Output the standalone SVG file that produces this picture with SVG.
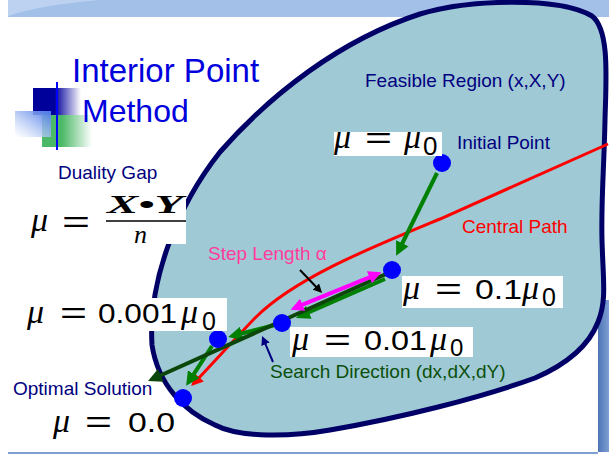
<svg xmlns="http://www.w3.org/2000/svg" width="609" height="458" viewBox="0 0 609 458">
<defs>
<style>
.lbl{font-family:"Liberation Sans",Arial,sans-serif;font-size:19px}
.navy{fill:#000080}
.mi{font-family:"Liberation Serif","DejaVu Serif",serif;font-style:italic;fill:#000}
.mn{font-family:"Liberation Sans",Arial,sans-serif;fill:#000}
.box{fill:#fff}
.dot{fill:#0000ff}
.g{stroke:#008000;stroke-width:4;fill:none}
</style>
<linearGradient id="navyFade" x1="0" y1="0" x2="1" y2="0">
<stop offset="0" stop-color="#00009a"/><stop offset="0.45" stop-color="#00009a"/><stop offset="1" stop-color="#00009a" stop-opacity="0"/>
</linearGradient>
<linearGradient id="greenFade" x1="0" y1="0" x2="1" y2="0">
<stop offset="0" stop-color="#4cb968"/><stop offset="0.4" stop-color="#4cb968"/><stop offset="1" stop-color="#4cb968" stop-opacity="0"/>
</linearGradient>
<linearGradient id="lightSq" x1="1" y1="0" x2="0" y2="1">
<stop offset="0" stop-color="#4a7ae6"/><stop offset="1" stop-color="#ffffff" stop-opacity="0.6"/>
</linearGradient>
<linearGradient id="lineFade" x1="0" y1="0" x2="1" y2="0">
<stop offset="0" stop-color="#1010ff"/><stop offset="1" stop-color="#1010ff" stop-opacity="0.15"/>
</linearGradient>
<linearGradient id="sideBand" x1="0" y1="0" x2="1" y2="0">
<stop offset="0" stop-color="#4d74b6"/><stop offset="1" stop-color="#7e9fd4"/>
</linearGradient>
<marker id="ahG" viewBox="0 0 10 10" refX="3" refY="5" markerWidth="14" markerHeight="14" markerUnits="userSpaceOnUse" orient="auto"><path d="M0,0 L10,5 L0,10 z" fill="#008000"/></marker>
<marker id="ahDG" viewBox="0 0 10 10" refX="3" refY="5" markerWidth="14" markerHeight="14" markerUnits="userSpaceOnUse" orient="auto"><path d="M0,0 L10,5 L0,10 z" fill="#0b460b"/></marker>
<marker id="ahR" viewBox="0 0 10 10" refX="3" refY="5" markerWidth="12" markerHeight="12" markerUnits="userSpaceOnUse" orient="auto"><path d="M0,0 L10,5 L0,10 z" fill="#ff0000"/></marker>
<marker id="ahM" viewBox="0 0 10 10" refX="3" refY="5" markerWidth="13" markerHeight="13" markerUnits="userSpaceOnUse" orient="auto-start-reverse"><path d="M0,0 L10,5 L0,10 z" fill="#ff00ff"/></marker>
<marker id="ahK" viewBox="0 0 10 10" refX="3" refY="5" markerWidth="9" markerHeight="9" markerUnits="userSpaceOnUse" orient="auto"><path d="M0,0 L10,5 L0,10 z" fill="#000"/></marker>
<marker id="ahN" viewBox="0 0 10 10" refX="3" refY="5" markerWidth="9" markerHeight="9" markerUnits="userSpaceOnUse" orient="auto"><path d="M0,0 L10,5 L0,10 z" fill="#000080"/></marker>
</defs>

<rect x="0" y="0" width="609" height="458" fill="#ffffff"/>
<!-- slide decoration -->
<rect x="8" y="0" width="601" height="17" fill="#a3c0e8"/>
<path d="M8,0 L100,0 Q40,5 8,16 Z" fill="#bcd2f0"/>
<rect x="598" y="300" width="11" height="152" fill="url(#sideBand)"/>
<line x1="8" y1="453" x2="598" y2="453" stroke="#7f9fd0" stroke-width="2"/>

<!-- logo -->
<g id="logo">
<rect x="42" y="115" width="50" height="32" fill="url(#greenFade)"/>
<rect x="33" y="88" width="48" height="27" fill="url(#navyFade)"/>
<rect x="15" y="111" width="36" height="26" fill="url(#lightSq)"/>
<line x1="57" y1="82" x2="57" y2="150" stroke="#0000ff" stroke-width="2"/>
<line x1="35" y1="133" x2="235" y2="133" stroke="url(#lineFade)" stroke-width="1.5"/>
</g>
<g id="title">
<text x="72" y="82" font-family="'Liberation Sans',Arial,sans-serif" font-size="33" fill="#0000dc">Interior Point</text>
<text x="82" y="122" font-family="'Liberation Sans',Arial,sans-serif" font-size="32" fill="#0000dc">Method</text>
</g>

<!-- feasible region -->
<g id="feasible-region">
<path d="M152,345 C148,280 178,205 220,152 C270,95 340,40 420,14 C470,-1 560,-3 592,16 C610,30 606,80 605,120 C604,170 601,200 602,240 C603,280 607,300 598,322 C588,348 565,365 535,378 C480,398 400,418 330,430 C290,437 240,438 215,425 C185,412 158,385 152,345 Z" fill="#9fc9d4" stroke="#000066" stroke-width="5"/>
<text class="lbl navy" x="365" y="87">Feasible Region (x,X,Y)</text>
</g>

<g id="connectors">
<path id="central-path" d="M608,144 L440,219 C370,248 295,278 255,318 C232,342 214,362 197,380" fill="none" stroke="#ff0000" stroke-width="3" marker-end="url(#ahR)"/>
<line class="g" x1="437" y1="173" x2="400.5" y2="247" marker-end="url(#ahG)"/>
<line class="g" x1="385" y1="279" x2="305" y2="314" marker-end="url(#ahG)"/>
<line class="g" x1="275" y1="325" x2="237.7" y2="334.5" marker-end="url(#ahG)"/>
<line class="g" x1="212" y1="346" x2="191.5" y2="377.6" marker-end="url(#ahG)"/>
<line x1="386" y1="274" x2="157" y2="377" stroke="#0b460b" stroke-width="4" marker-end="url(#ahDG)"/>
<line x1="373" y1="275.8" x2="299" y2="306.2" stroke="#ff00ff" stroke-width="4" marker-start="url(#ahM)" marker-end="url(#ahM)"/>
<line x1="300" y1="270" x2="317.7" y2="288.5" stroke="#000" stroke-width="2" marker-end="url(#ahK)"/>
<line x1="273" y1="362" x2="264.5" y2="341.8" stroke="#000080" stroke-width="2" marker-end="url(#ahN)"/>
</g>

<g id="central-path-label"><text class="lbl" x="462" y="233" fill="#ff0000">Central Path</text></g>
<g id="step-length-label"><text class="lbl" x="208" y="260" fill="#ff3c9e">Step Length α</text></g>
<g id="search-direction-label"><text class="lbl" x="270" y="378" fill="#0b500b">Search Direction (dx,dX,dY)</text></g>

<g id="initial-point">
<circle class="dot" cx="442" cy="163" r="9"/>
<rect class="box" x="334" y="132" width="108" height="24"/>
<text class="mi" x="334" y="148" font-size="34">μ</text>
<text class="mn" x="365" y="148" font-size="30" textLength="27" lengthAdjust="spacingAndGlyphs">=</text>
<text class="mi" x="404" y="148" font-size="34">μ</text>
<text class="mn" x="423" y="155" font-size="26">0</text>
<text class="lbl navy" x="457" y="149">Initial Point</text>
</g>

<g id="point-01">
<circle class="dot" cx="392" cy="270" r="9"/>
<rect class="box" x="402" y="276" width="161" height="32"/>
<text class="mi" x="403" y="299" font-size="34">μ</text>
<text class="mn" x="435" y="299" font-size="30" textLength="27" lengthAdjust="spacingAndGlyphs">=</text>
<text class="mn" x="475" y="299" font-size="28" textLength="47" lengthAdjust="spacingAndGlyphs">0.1</text>
<text class="mi" x="522" y="299" font-size="34">μ</text>
<text class="mn" x="542" y="306" font-size="25">0</text>
</g>

<g id="point-001">
<circle class="dot" cx="282" cy="323" r="9"/>
<rect class="box" x="290" y="327" width="183" height="30"/>
<text class="mi" x="292" y="350" font-size="34">μ</text>
<text class="mn" x="324" y="350" font-size="30" textLength="27" lengthAdjust="spacingAndGlyphs">=</text>
<text class="mn" x="364" y="350" font-size="28" textLength="63" lengthAdjust="spacingAndGlyphs">0.01</text>
<text class="mi" x="430" y="350" font-size="34">μ</text>
<text class="mn" x="450" y="356" font-size="24">0</text>
</g>

<g id="point-0001">
<circle class="dot" cx="218" cy="339" r="9"/>
<rect class="box" x="25" y="298" width="202" height="33"/>
<text class="mi" x="27" y="323" font-size="34">μ</text>
<text class="mn" x="60" y="323" font-size="30" textLength="27" lengthAdjust="spacingAndGlyphs">=</text>
<text class="mn" x="98" y="323" font-size="28" textLength="79" lengthAdjust="spacingAndGlyphs">0.001</text>
<text class="mi" x="181" y="323" font-size="34">μ</text>
<text class="mn" x="202" y="330" font-size="25">0</text>
</g>

<g id="optimal-solution">
<circle class="dot" cx="183" cy="398" r="9"/>
<text class="lbl navy" x="13" y="395">Optimal Solution</text>
<text class="mi" x="53" y="432" font-size="34">μ</text>
<text class="mn" x="85" y="432" font-size="30" textLength="27" lengthAdjust="spacingAndGlyphs">=</text>
<text class="mn" x="128" y="432" font-size="28" textLength="47" lengthAdjust="spacingAndGlyphs">0.0</text>
</g>

<g id="duality-gap">
<text class="lbl navy" x="58" y="179">Duality Gap</text>
<rect class="box" x="25" y="190" width="161" height="54"/>
<text class="mi" x="31" y="231" font-size="34">μ</text>
<text class="mn" x="62" y="232" font-size="30" textLength="28" lengthAdjust="spacingAndGlyphs">=</text>
<text x="107" y="213" font-family="'Liberation Serif','DejaVu Serif',serif" font-style="italic" font-weight="bold" font-size="25" textLength="76" lengthAdjust="spacingAndGlyphs">X•Y</text>
<line x1="106" y1="221" x2="186" y2="221" stroke="#000" stroke-width="1.6"/>
<text class="mi" x="134" y="243" font-size="26">n</text>
</g>
</svg>
